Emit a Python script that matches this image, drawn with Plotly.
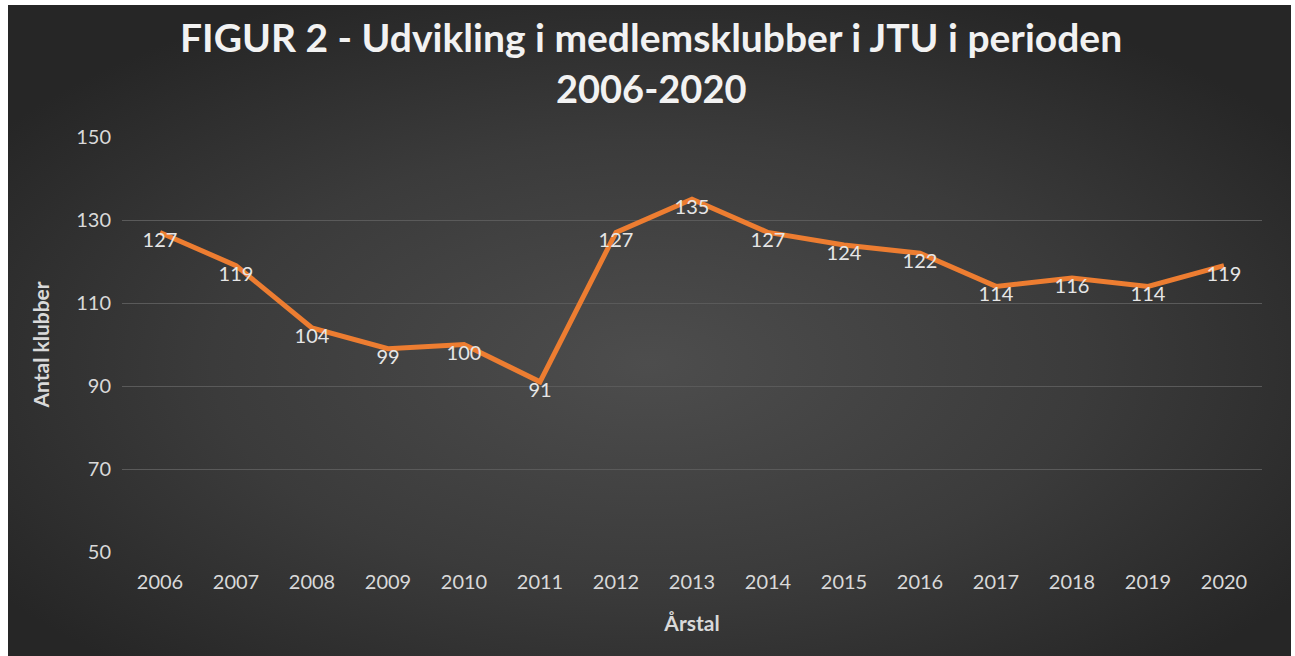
import plotly.graph_objects as go
import base64

years = ["2006", "2007", "2008", "2009", "2010", "2011", "2012", "2013",
         "2014", "2015", "2016", "2017", "2018", "2019", "2020"]
clubs = [127, 119, 104, 99, 100, 91, 127, 135, 127, 124, 122, 114, 116, 114, 119]
y_ticks = [50, 70, 90, 110, 130, 150]
title_lines = ["FIGUR 2 - Udvikling i medlemsklubber i JTU i perioden", "2006-2020"]

W, H = 1295, 656
L, R, T, B = 122, 33, 137, 104
pw, ph = W - L - R, H - T - B

svg = ('<svg xmlns="http://www.w3.org/2000/svg" width="1283" height="651" viewBox="0 0 1283 651" preserveAspectRatio="none">'
       '<defs><radialGradient id="g" cx="0.5" cy="0.55" r="0.62" gradientUnits="objectBoundingBox">'
       '<stop offset="0" stop-color="#4d4d4d"/><stop offset="0.55" stop-color="#3b3b3b"/>'
       '<stop offset="1" stop-color="#262626"/></radialGradient></defs>'
       '<rect x="0" y="0" width="1283" height="651" fill="url(#g)"/></svg>')
src = "data:image/svg+xml;base64," + base64.b64encode(svg.encode()).decode()

fig = go.Figure()
fig.add_trace(go.Scatter(
    x=list(range(len(years))), y=clubs, mode="lines+text",
    line=dict(color="#ED7D31", width=5),
    text=[str(v) for v in clubs], textposition="bottom center",
    textfont=dict(family="Lato", size=20, color="#e6e6e6"),
    hoverinfo="skip", cliponaxis=False,
))

title_y_px = [37, 88]
title_sizes = [39, 38]
annotations = [dict(text=t, xref="paper", yref="paper", x=0.5, xshift=-41,
                    y=(H - B - yp) / ph, xanchor="center", yanchor="middle",
                    showarrow=False,
                    font=dict(family="Lato", size=s, color="#f2f2f2", weight="bold"))
               for t, yp, s in zip(title_lines, title_y_px, title_sizes)]

fig.update_layout(
    width=W, height=H,
    margin=dict(l=L, r=R, t=T, b=B),
    paper_bgcolor="white", plot_bgcolor="rgba(0,0,0,0)",
    showlegend=False,
    annotations=annotations,
    images=[dict(source=src, xref="paper", yref="paper",
                 x=(8 - L) / pw, y=(H - B - 5) / ph,
                 sizex=(1291 - 8) / pw, sizey=(H - 5) / ph,
                 sizing="stretch", xanchor="left", yanchor="top", layer="below")],
    xaxis=dict(range=[-0.5, len(years) - 0.5], tickvals=list(range(len(years))),
               ticktext=years, showgrid=False, zeroline=False, showline=False,
               tickfont=dict(family="Lato", size=20, color="#d9d9d9"), ticks="",
               ticklabelstandoff=16,
               title=dict(text="Årstal", standoff=24,
                          font=dict(family="Lato", size=21, color="#d9d9d9", weight="bold"))),
    yaxis=dict(range=[50, 150], tickvals=y_ticks, showgrid=True, gridcolor="#5a5a5a",
               gridwidth=1, zeroline=False, showline=False, ticks="",
               ticklabelstandoff=10,
               tickfont=dict(family="Lato", size=20, color="#d9d9d9"),
               title=dict(text="Antal klubber", standoff=20,
                          font=dict(family="Lato", size=21, color="#d9d9d9", weight="bold"))),
)

fig.write_html("out.html")
